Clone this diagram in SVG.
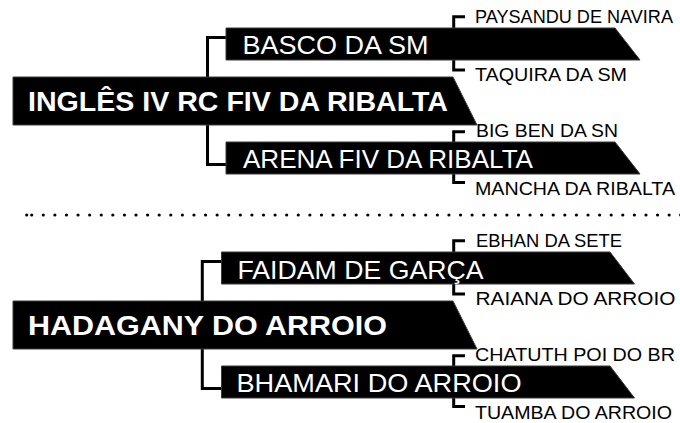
<svg xmlns="http://www.w3.org/2000/svg" width="680" height="423" viewBox="0 0 680 423">
<style>
.box{fill:#000;stroke:#3a3a3a;stroke-width:1}
.con{fill:none;stroke:#000;stroke-width:3;stroke-linejoin:miter;stroke-linecap:butt}
.main{font-family:"Liberation Sans",Arial,sans-serif;font-weight:bold;font-size:28px;fill:#fff}
.par{font-family:"Liberation Sans",Arial,sans-serif;font-size:25px;fill:#fff}
.gp{font-family:"Liberation Sans",Arial,sans-serif;font-size:19px;fill:#000}
.dots{fill:none;stroke:#000;stroke-width:3.2;stroke-linecap:round;stroke-dasharray:0 11.59}
</style>
<rect width="680" height="423" fill="#fff"/>
<g id="connectors">
<path class="con" d="M226 37.5H207.5V164.5H226"/>
<path class="con" d="M465 16.7H453.7V70H465"/>
<path class="con" d="M465 131.7H453.7V182.5H465"/>
<path class="con" d="M221.5 261.5H202.3V388.5H221.5"/>
<path class="con" d="M465 240.7H453.7V294H465"/>
<path class="con" d="M465 355.7H453.7V406.5H465"/>
</g>
<g id="separator">
<line class="dots" x1="31.7" y1="215" x2="681" y2="215"/>
<circle cx="26.7" cy="215" r="1.6" fill="#000"/>
</g>
<g id="node-ingles">
<polygon class="box" points="13,77 453,77 477,125 13,125"/>
<text class="main" x="28" y="111" textLength="420" lengthAdjust="spacingAndGlyphs">INGLÊS IV RC FIV DA RIBALTA</text>
</g>
<g id="node-basco">
<polygon class="box" points="226,28 615,28 640,60 226,60"/>
<text class="par" x="242.5" y="54" textLength="186" lengthAdjust="spacingAndGlyphs">BASCO DA SM</text>
</g>
<g id="node-arena">
<polygon class="box" points="226,142 615,142 640,174 226,174"/>
<text class="par" x="243" y="168.3" textLength="290" lengthAdjust="spacingAndGlyphs">ARENA FIV DA RIBALTA</text>
</g>
<g id="node-paysandu"><text class="gp" x="475" y="22.7" style="font-size:18px" textLength="198" lengthAdjust="spacingAndGlyphs">PAYSANDU DE NAVIRA</text></g>
<g id="node-taquira"><text class="gp" x="475" y="81" textLength="152" lengthAdjust="spacingAndGlyphs">TAQUIRA DA SM</text></g>
<g id="node-bigben"><text class="gp" x="476" y="136.7" textLength="142" lengthAdjust="spacingAndGlyphs">BIG BEN DA SN</text></g>
<g id="node-mancha"><text class="gp" x="475" y="195" textLength="200" lengthAdjust="spacingAndGlyphs">MANCHA DA RIBALTA</text></g>
<g id="node-hadagany">
<polygon class="box" points="13,301 453,301 477,349 13,349"/>
<text class="main" x="28" y="335" textLength="359" lengthAdjust="spacingAndGlyphs">HADAGANY DO ARROIO</text>
</g>
<g id="node-faidam">
<polygon class="box" points="221.5,252 610,252 634.5,284 221.5,284"/>
<text class="par" x="237.5" y="278.5" textLength="246" lengthAdjust="spacingAndGlyphs">FAIDAM DE GARÇA</text>
</g>
<g id="node-bhamari">
<polygon class="box" points="221.5,366 610,366 634.5,398 221.5,398"/>
<text class="par" x="236.5" y="392" textLength="285" lengthAdjust="spacingAndGlyphs">BHAMARI DO ARROIO</text>
</g>
<g id="node-ebhan"><text class="gp" x="476" y="246.7" textLength="146" lengthAdjust="spacingAndGlyphs">EBHAN DA SETE</text></g>
<g id="node-raiana"><text class="gp" x="475.5" y="305" textLength="200" lengthAdjust="spacingAndGlyphs">RAIANA DO ARROIO</text></g>
<g id="node-chatuth"><text class="gp" x="475" y="360.7" textLength="200" lengthAdjust="spacingAndGlyphs">CHATUTH POI DO BR</text></g>
<g id="node-tuamba"><text class="gp" x="475" y="419" textLength="197" lengthAdjust="spacingAndGlyphs">TUAMBA DO ARROIO</text></g>
</svg>
